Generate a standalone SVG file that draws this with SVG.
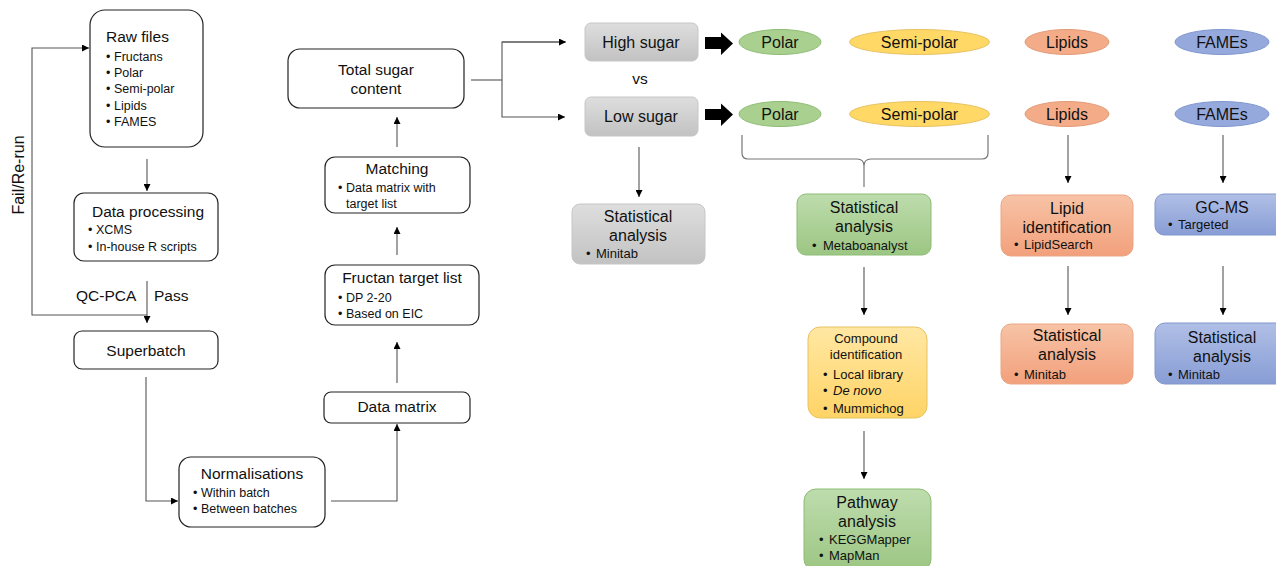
<svg xmlns="http://www.w3.org/2000/svg" width="1276" height="566" viewBox="0 0 1276 566">
<defs>
<style>
text{font-family:"Liberation Sans",Arial,Helvetica,sans-serif;fill:#111;}
.t{font-size:15.5px;}
.tr{font-size:16px;}
.b{font-size:12.5px;}
.br{font-size:13px;}
.c{text-anchor:middle;}
.box{fill:#fff;stroke:#222;stroke-width:1.2;}
.ln{fill:none;stroke:#555;stroke-width:1.1;}
.brace{fill:none;stroke:#777;stroke-width:1.2;}
.gray{fill:url(#gGray);stroke:#c6c6c6;stroke-width:1;}
.green{fill:url(#gGreen);stroke:#8cbc74;stroke-width:1;}
.yellow{fill:url(#gYellow);stroke:#e8c260;stroke-width:1;}
.salmon{fill:url(#gSalmon);stroke:#eba585;stroke-width:1;}
.blue{fill:url(#gBlue);stroke:#8096cc;stroke-width:1;}
.egreen{fill:#a9d08f;stroke:#8cbc74;stroke-width:1;}
.eyellow{fill:#ffd866;stroke:#e8c260;stroke-width:1;}
.esalmon{fill:#f4ab87;stroke:#e39a78;stroke-width:1;}
.eblue{fill:#96a9dc;stroke:#7f96cf;stroke-width:1;}
</style>
<linearGradient id="gGray" x1="0" y1="0" x2="0" y2="1"><stop offset="0" stop-color="#dedede"/><stop offset="1" stop-color="#c2c2c2"/></linearGradient>
<linearGradient id="gGreen" x1="0" y1="0" x2="0" y2="1"><stop offset="0" stop-color="#bedcad"/><stop offset="1" stop-color="#9cc683"/></linearGradient>
<linearGradient id="gYellow" x1="0" y1="0" x2="0" y2="1"><stop offset="0" stop-color="#ffe7a3"/><stop offset="1" stop-color="#ffd466"/></linearGradient>
<linearGradient id="gSalmon" x1="0" y1="0" x2="0" y2="1"><stop offset="0" stop-color="#f7c3a6"/><stop offset="1" stop-color="#f2a07c"/></linearGradient>
<linearGradient id="gBlue" x1="0" y1="0" x2="0" y2="1"><stop offset="0" stop-color="#b0bfe6"/><stop offset="1" stop-color="#889dd5"/></linearGradient>
<marker id="ah" viewBox="0 0 10 10" refX="10" refY="5" markerWidth="9" markerHeight="7" markerUnits="userSpaceOnUse" orient="auto">
<path d="M0,0 L10,5 L0,10 z" fill="#000"/>
</marker>
</defs>
<rect width="1276" height="566" fill="#fff"/>

<g id="connectors">
<polyline class="ln" points="147,159 147,191" marker-end="url(#ah)"/>
<polyline class="ln" points="147,281 147,323" marker-end="url(#ah)"/>
<polyline class="ln" points="147,315 32,315 32,48 89,48" marker-end="url(#ah)"/>
<polyline class="ln" points="146,377 146,501 178,501" marker-end="url(#ah)"/>
<polyline class="ln" points="331,501 397,501 397,424" marker-end="url(#ah)"/>
<polyline class="ln" points="397,383 397,342" marker-end="url(#ah)"/>
<polyline class="ln" points="397,255 397,227" marker-end="url(#ah)"/>
<polyline class="ln" points="397,147 397,117" marker-end="url(#ah)"/>
<polyline class="ln" points="471,80 502,80"/>
<polyline class="ln" points="565,42 502,42 502,117 565,117" marker-end="url(#ah)"/>
<polyline class="ln" points="502,42 566,42" marker-end="url(#ah)"/>
<polyline class="ln" points="639,147 639,197" marker-end="url(#ah)"/>
<path class="brace" d="M742,135 V153 Q742,159 748,159 H857 Q864,159 864,166 V187 M864,166 Q864,159 871,159 H982 Q988,159 988,153 V135"/>
<polyline class="ln" points="864,267 864,315" marker-end="url(#ah)"/>
<polyline class="ln" points="864,431 864,479" marker-end="url(#ah)"/>
<polyline class="ln" points="1068,135 1068,183" marker-end="url(#ah)"/>
<polyline class="ln" points="1068,266 1068,315" marker-end="url(#ah)"/>
<polyline class="ln" points="1223,135 1223,183" marker-end="url(#ah)"/>
<polyline class="ln" points="1223,266 1223,315" marker-end="url(#ah)"/>
<path d="M705,37 H721 V32.5 L733,43.5 L721,55 V49 H705 Z" fill="#000"/>
<path d="M705,109 H721 V103.5 L733,114.5 L721,126 V120 H705 Z" fill="#000"/>
</g>

<g id="labels">
<text class="t" transform="translate(24,175) rotate(-90)" text-anchor="middle" style="font-size:16px">Fail/Re-run</text>
<text class="t" x="76" y="300.5">QC-PCA</text>
<text class="t" x="154" y="300.5">Pass</text>
<text class="t c" x="640" y="84">vs</text>
</g>

<g id="raw-files">
<rect class="box" x="90" y="10" width="113" height="137" rx="15"/>
<text class="t" x="106" y="42">Raw files</text>
<text class="b"><tspan x="106" y="60.5">•</tspan><tspan x="114" y="60.5">Fructans</tspan></text>
<text class="b"><tspan x="106" y="76.5">•</tspan><tspan x="114" y="76.5">Polar</tspan></text>
<text class="b"><tspan x="106" y="93">•</tspan><tspan x="114" y="93">Semi-polar</tspan></text>
<text class="b"><tspan x="106" y="110">•</tspan><tspan x="114" y="110">Lipids</tspan></text>
<text class="b"><tspan x="106" y="125.5">•</tspan><tspan x="114" y="125.5">FAMES</tspan></text>
</g>

<g id="data-processing">
<rect class="box" x="74" y="193" width="144" height="68" rx="10"/>
<text class="t" x="92" y="217">Data processing</text>
<text class="b"><tspan x="88" y="233.5">•</tspan><tspan x="96" y="233.5">XCMS</tspan></text>
<text class="b"><tspan x="88" y="250.5">•</tspan><tspan x="96" y="250.5">In-house R scripts</tspan></text>
</g>

<g id="superbatch">
<rect class="box" x="74" y="331" width="144" height="38" rx="8"/>
<text class="t c" x="146" y="355.5">Superbatch</text>
</g>

<g id="normalisations">
<rect class="box" x="179" y="457" width="146" height="70" rx="12"/>
<text class="t c" x="252" y="478.5">Normalisations</text>
<text class="b"><tspan x="193" y="496.5">•</tspan><tspan x="201" y="496.5">Within batch</tspan></text>
<text class="b"><tspan x="193" y="512.5">•</tspan><tspan x="201" y="512.5">Between batches</tspan></text>
</g>

<g id="data-matrix">
<rect class="box" x="324" y="392" width="146" height="31" rx="7"/>
<text class="t c" x="397" y="411.5">Data matrix</text>
</g>

<g id="fructan-target-list">
<rect class="box" x="325" y="265" width="154" height="60" rx="10"/>
<text class="t c" x="402" y="282.5">Fructan target list</text>
<text class="b"><tspan x="338" y="301.5">•</tspan><tspan x="346" y="301.5">DP 2-20</tspan></text>
<text class="b"><tspan x="338" y="317.5">•</tspan><tspan x="346" y="317.5">Based on EIC</tspan></text>
</g>

<g id="matching">
<rect class="box" x="325" y="157" width="145" height="56" rx="10"/>
<text class="t c" x="397" y="173.5">Matching</text>
<text class="b"><tspan x="338" y="191.5">•</tspan><tspan x="346" y="191.5">Data matrix with</tspan></text>
<text class="b" x="346" y="207.5">target list</text>
</g>

<g id="total-sugar">
<rect class="box" x="288" y="49" width="176" height="59" rx="12"/>
<text class="t c" x="376" y="74.5">Total sugar</text>
<text class="t c" x="376" y="93.5">content</text>
</g>

<g id="high-sugar">
<rect class="gray" x="585" y="23" width="113" height="38" rx="6"/>
<text class="tr c" x="641" y="47.5">High sugar</text>
</g>

<g id="low-sugar">
<rect class="gray" x="585" y="97" width="113" height="39" rx="6"/>
<text class="tr c" x="641" y="121.5">Low sugar</text>
</g>

<g id="polar-high">
<ellipse class="egreen" cx="780" cy="42" rx="41" ry="12.5"/>
<text class="tr c" x="780" y="47.5">Polar</text>
</g>
<g id="semipolar-high">
<ellipse class="eyellow" cx="919.5" cy="42" rx="70" ry="12.5"/>
<text class="tr c" x="919.5" y="47.5">Semi-polar</text>
</g>
<g id="lipids-high">
<ellipse class="esalmon" cx="1067" cy="42" rx="42" ry="12.5"/>
<text class="tr c" x="1067" y="47.5">Lipids</text>
</g>
<g id="fames-high">
<ellipse class="eblue" cx="1222" cy="42" rx="47" ry="12.5"/>
<text class="tr c" x="1222" y="47.5">FAMEs</text>
</g>

<g id="polar-low">
<ellipse class="egreen" cx="780" cy="114" rx="41" ry="12.5"/>
<text class="tr c" x="780" y="119.5">Polar</text>
</g>
<g id="semipolar-low">
<ellipse class="eyellow" cx="919.5" cy="114" rx="70" ry="12.5"/>
<text class="tr c" x="919.5" y="119.5">Semi-polar</text>
</g>
<g id="lipids-low">
<ellipse class="esalmon" cx="1067" cy="114" rx="42" ry="12.5"/>
<text class="tr c" x="1067" y="119.5">Lipids</text>
</g>
<g id="fames-low">
<ellipse class="eblue" cx="1222" cy="114" rx="47" ry="12.5"/>
<text class="tr c" x="1222" y="119.5">FAMEs</text>
</g>

<g id="stats-gray">
<rect class="gray" x="572" y="204" width="133" height="60" rx="8"/>
<text class="tr c" x="638" y="221.5">Statistical</text>
<text class="tr c" x="638" y="240.5">analysis</text>
<text class="br"><tspan x="586" y="257.5">•</tspan><tspan x="596" y="257.5">Minitab</tspan></text>
</g>

<g id="stats-green">
<rect class="green" x="797" y="194" width="134" height="61" rx="9"/>
<text class="tr c" x="864" y="212.5">Statistical</text>
<text class="tr c" x="864" y="231.5">analysis</text>
<text class="br"><tspan x="812" y="249.5">•</tspan><tspan x="823" y="249.5">Metaboanalyst</tspan></text>
</g>

<g id="compound-identification">
<rect class="yellow" x="808" y="327" width="119" height="91" rx="12"/>
<text class="br c" x="866" y="342.5">Compound</text>
<text class="br c" x="866" y="358.5">identification</text>
<text class="br"><tspan x="823" y="378.5">•</tspan><tspan x="833" y="378.5">Local library</tspan></text>
<text class="br"><tspan x="823" y="394.5">•</tspan><tspan x="833" y="394.5" font-style="italic">De novo</tspan></text>
<text class="br"><tspan x="823" y="412.5">•</tspan><tspan x="833" y="412.5">Mummichog</tspan></text>
</g>

<g id="pathway-analysis">
<rect class="green" x="804" y="489" width="127" height="82" rx="12"/>
<text class="tr c" x="867" y="507.5">Pathway</text>
<text class="tr c" x="867" y="526.5">analysis</text>
<text class="br"><tspan x="819" y="543.5">•</tspan><tspan x="829" y="543.5">KEGGMapper</tspan></text>
<text class="br"><tspan x="819" y="559.5">•</tspan><tspan x="829" y="559.5">MapMan</tspan></text>
</g>

<g id="lipid-identification">
<rect class="salmon" x="1001" y="195" width="132" height="61" rx="10"/>
<text class="tr c" x="1067" y="213.5">Lipid</text>
<text class="tr c" x="1067" y="232.5">identification</text>
<text class="br"><tspan x="1014" y="248.5">•</tspan><tspan x="1024" y="248.5">LipidSearch</tspan></text>
</g>

<g id="stats-lipids">
<rect class="salmon" x="1001" y="324" width="132" height="60" rx="10"/>
<text class="tr c" x="1067" y="340.5">Statistical</text>
<text class="tr c" x="1067" y="359.5">analysis</text>
<text class="br"><tspan x="1014" y="378.5">•</tspan><tspan x="1024" y="378.5">Minitab</tspan></text>
</g>

<g id="gc-ms">
<rect class="blue" x="1155" y="194" width="140" height="41" rx="9"/>
<text class="tr c" x="1222" y="212.5">GC-MS</text>
<text class="br"><tspan x="1168" y="228.5">•</tspan><tspan x="1178" y="228.5">Targeted</tspan></text>
</g>

<g id="stats-fames">
<rect class="blue" x="1155" y="323" width="140" height="61" rx="10"/>
<text class="tr c" x="1222" y="342.5">Statistical</text>
<text class="tr c" x="1222" y="361.5">analysis</text>
<text class="br"><tspan x="1168" y="378.5">•</tspan><tspan x="1178" y="378.5">Minitab</tspan></text>
</g>
</svg>
